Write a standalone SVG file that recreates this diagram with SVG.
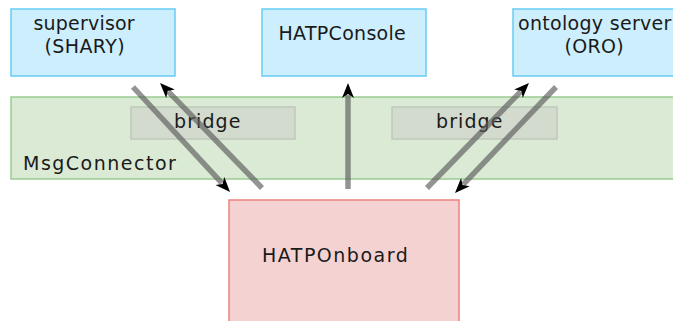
<svg xmlns="http://www.w3.org/2000/svg" width="673" height="321" viewBox="0 0 673 321">
<defs>
<style>
text{font-family:"DejaVu Sans",sans-serif;font-size:19px;fill:#1a1a1a}
.blue{fill:#cdeefc;stroke:#66ccf5;stroke-width:1.5}
.green{fill:#dbead5;stroke:#99cc90;stroke-width:1.5}
.bridge{fill:#d3dbcf;stroke:#bfc9bb;stroke-width:1.5}
.pink{fill:#f5d2d2;stroke:#ee8080;stroke-width:1.5}
.arr{stroke:#5a5a5a;stroke-opacity:0.65;stroke-width:5.5;fill:none;marker-end:url(#ah)}
</style>
<marker id="ah" markerUnits="userSpaceOnUse" markerWidth="16" markerHeight="14" viewBox="0 -7 16 14" refX="3" refY="0" orient="auto">
<path d="M0,-6 L15,0 L0,6 L4,0 Z" fill="#000"/>
</marker>
</defs>
<g id="MsgConnector">
<rect class="green" x="11" y="97" width="670" height="82"/>
<text x="23" y="170" letter-spacing="1.5">MsgConnector</text>
</g>
<g id="bridge1">
<rect class="bridge" x="131" y="107" width="164" height="32"/>
<text x="174" y="128" letter-spacing="1.1">bridge</text>
</g>
<g id="bridge2">
<rect class="bridge" x="392" y="107" width="165" height="32"/>
<text x="436" y="128" letter-spacing="1.1">bridge</text>
</g>
<g id="supervisor">
<rect class="blue" x="11" y="9" width="164" height="67"/>
<text x="33.5" y="30" letter-spacing="0.2">supervisor</text>
<text x="44.5" y="53" letter-spacing="0.4">(SHARY)</text>
</g>
<g id="HATPConsole">
<rect class="blue" x="262" y="9" width="164" height="67"/>
<text x="278.5" y="39.5" letter-spacing="0.3">HATPConsole</text>
</g>
<g id="ontology">
<rect class="blue" x="513" y="9" width="164" height="67"/>
<text x="518" y="30" letter-spacing="0.3">ontology server</text>
<text x="564.5" y="53" letter-spacing="0.3">(ORO)</text>
</g>
<g id="HATPOnboard">
<rect class="pink" x="229" y="200" width="230" height="130"/>
<text x="262" y="262" letter-spacing="1.5">HATPOnboard</text>
</g>
<g id="connectors">
<line class="arr" x1="133" y1="87" x2="221.9" y2="183.2"/>
<line class="arr" x1="262" y1="188" x2="168.4" y2="91.6"/>
<line class="arr" x1="348" y1="189" x2="348" y2="95"/>
<line class="arr" x1="427" y1="188" x2="520.6" y2="91.6"/>
<line class="arr" x1="556" y1="87" x2="463.3" y2="184.3"/>
</g>
</svg>
